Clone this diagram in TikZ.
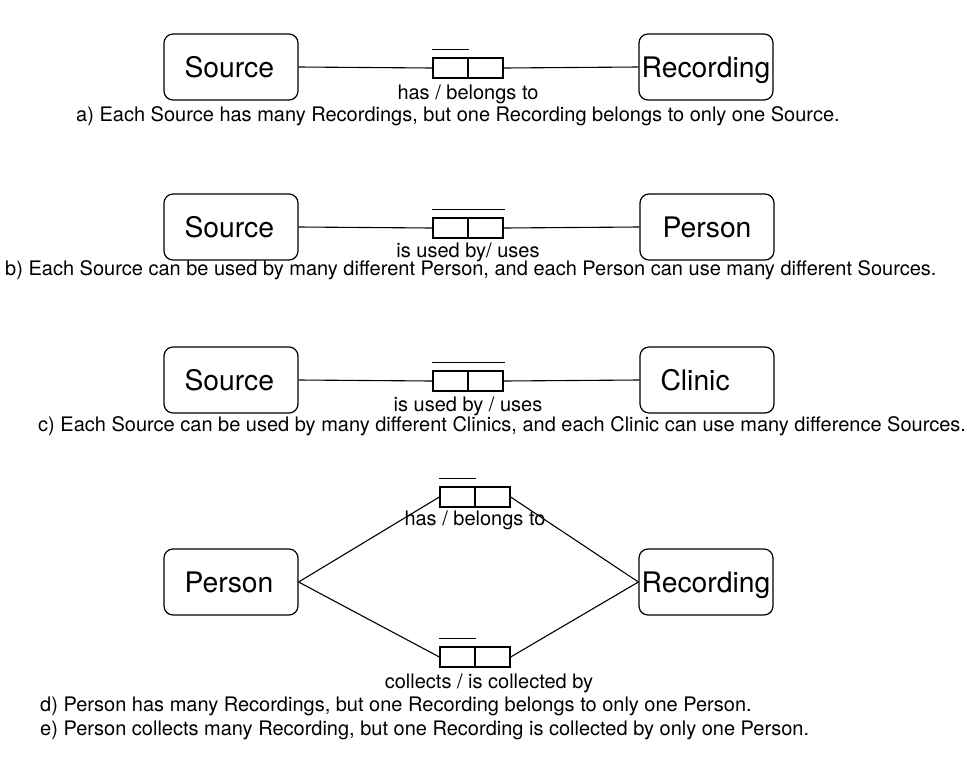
\documentclass[tikz,border=0pt]{standalone}
\usepackage{fontspec}
\setmainfont{TeX Gyre Heros}
\begin{document}
\begin{tikzpicture}[x=1pt,y=-1pt,
  entity/.style={draw, rounded corners=9pt, minimum width=134pt, minimum height=66pt, line width=1.2pt, inner sep=0pt, text height=20.5pt, text depth=0pt, font=\fontsize{28.3}{30}\selectfont},
  lefttext/.style={text width=93pt, align=left},
  rolebox/.style={draw, minimum width=70pt, minimum height=20pt, line width=1.3pt, inner sep=0pt},
  divider/.style={line width=2pt},
  bar/.style={line width=1.3pt},
  conn/.style={line width=1.1pt},
  lbl/.style={anchor=base, inner sep=0pt, font=\fontsize{20}{22}\selectfont},
  captxt/.style={anchor=base west, inner sep=0pt, font=\fontsize{20}{22}\selectfont}]
\useasboundingbox (0,0) rectangle (967,774);
% row a
\node[entity,lefttext] (sa) at (231,67) {Source};
\node[entity] (reca) at (706,67) {Recording};
\node[rolebox] (ra) at (468,68) {};
\draw[divider] (ra.north) -- (ra.south);
\draw[bar] ([yshift=8pt]ra.north west) -- ([yshift=8pt,xshift=1pt]ra.north);
\draw[conn] (sa.east) -- (ra.west);
\draw[conn] (ra.east) -- (reca.west);
\node[lbl] (la) at (468,99) {has / belongs to};
\node[captxt] (ca) at (76,121) {a) Each Source has many Recordings, but one Recording belongs to only one Source.};
% row b
\node[entity,lefttext] (sb) at (231,227) {Source};
\node[entity] (pb) at (707,227) {Person};
\node[rolebox] (rb) at (468,228) {};
\draw[divider] (rb.north) -- (rb.south);
\draw[bar] ([yshift=8pt]rb.north west) -- ([yshift=8pt,xshift=1pt]rb.north east);
\draw[conn] (sb.east) -- (rb.west);
\draw[conn] (rb.east) -- (pb.west);
\node[lbl] (lb) at (468,257) {is used by/ uses};
\node[captxt] (cb) at (5,275) {b) Each Source can be used by many different Person, and each Person can use many different Sources.};
% row c
\node[entity,lefttext] (sc) at (231,380) {Source};
\node[entity,lefttext] (clc) at (707,380) {Clinic};
\node[rolebox] (rc) at (468,381) {};
\draw[divider] (rc.north) -- (rc.south);
\draw[bar] ([yshift=8pt]rc.north west) -- ([yshift=8pt,xshift=1pt]rc.north east);
\draw[conn] (sc.east) -- (rc.west);
\draw[conn] (rc.east) -- (clc.west);
\node[lbl] (lc) at (468,411) {is used by / uses};
\node[captxt] (cc) at (38,431) {c) Each Source can be used by many different Clinics, and each Clinic can use many difference Sources.};
% row d
\node[entity,lefttext] (pd) at (231,582) {Person};
\node[entity] (recd) at (706,582) {Recording};
\node[rolebox] (rd1) at (475,497) {};
\draw[divider] (rd1.north) -- (rd1.south);
\draw[bar] ([yshift=8pt]rd1.north west) -- ([yshift=8pt,xshift=1pt]rd1.north);
\node[rolebox] (rd2) at (475,657) {};
\draw[divider] (rd2.north) -- (rd2.south);
\draw[bar] ([yshift=8pt]rd2.north west) -- ([yshift=8pt,xshift=1pt]rd2.north);
\draw[conn] (pd.east) -- (rd1.west);
\draw[conn] (rd1.east) -- (recd.west);
\draw[conn] (pd.east) -- (rd2.west);
\draw[conn] (rd2.east) -- (recd.west);
\node[lbl] (ld1) at (475,525) {has / belongs to};
\node[lbl] (ld2) at (489,688) {collects / is collected by};
\node[captxt] (cd) at (40,711) {d) Person has many Recordings, but one Recording belongs to only one Person.};
\node[captxt] (ce) at (40,735) {e) Person collects many Recording, but one Recording is collected by only one Person.};
\end{tikzpicture}
\end{document}
